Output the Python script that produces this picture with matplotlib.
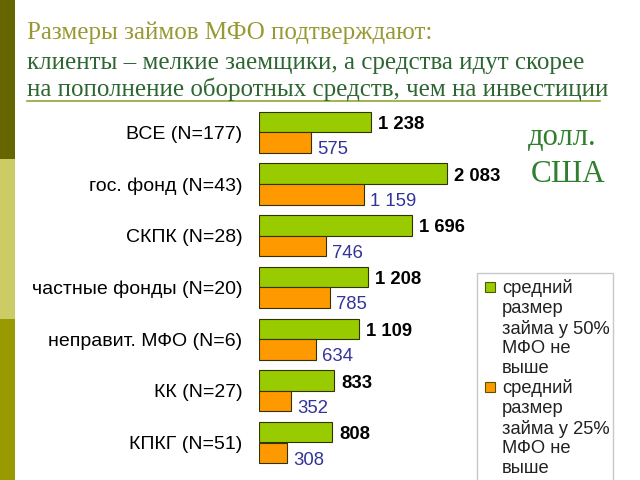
import matplotlib
matplotlib.use("Agg")
import matplotlib.pyplot as plt
import matplotlib.patches as patches
import numpy as np

# --- data ---
categories = ["ВСЕ (N=177)", "гос. фонд (N=43)", "СКПК (N=28)",
              "частные фонды (N=20)", "неправит. МФО (N=6)",
              "КК (N=27)", "КПКГ (N=51)"]
loan_50 = [1238, 2083, 1696, 1208, 1109, 833, 808]
loan_25 = [575, 1159, 746, 785, 634, 352, 308]
legend_labels = ["средний\nразмер\nзайма у 50%\nМФО не\nвыше",
                 "средний\nразмер\nзайма у 25%\nМФО не\nвыше"]
title_lines = ["Размеры займов МФО подтверждают:",
               "клиенты – мелкие заемщики, а средства идут скорее",
               "на пополнение оборотных средств, чем на инвестиции"]
unit_text = ["долл.", "США"]

GREEN = "#99cc00"
ORANGE = "#ff9900"
W, H = 640, 480


def fx(px):
    return px / W


def fy(py):
    return 1 - py / H


def fmt(v):
    return f"{v:,}".replace(",", " ")


fig = plt.figure(figsize=(6.4, 4.8), dpi=100)
fig.patch.set_facecolor("white")

# left decorative strip
for y0, y1, c in [(0, 159, "#666600"), (159, 319, "#cccc66"), (319, 480, "#999900")]:
    fig.add_artist(patches.Rectangle((0, fy(y1)), fx(15), (y1 - y0) / H,
                                     transform=fig.transFigure, color=c, lw=0))

# title
serif = "Liberation Serif"
tsize = 18
fig.text(fx(27), fy(39.5), title_lines[0], fontsize=tsize, family=serif,
         color="#999933", va="baseline")
fig.text(fx(27), fy(69), title_lines[1], fontsize=tsize, family=serif,
         color="#2e6633", va="baseline")
fig.text(fx(27), fy(96), title_lines[2], fontsize=tsize, family=serif,
         color="#2e6633", va="baseline")
fig.add_artist(plt.Line2D([fx(27), fx(600)], [fy(100.5), fy(100.5)],
                          transform=fig.transFigure, color="#8fa832", lw=1.2))

# unit note
fig.text(fx(562), fy(145), unit_text[0], fontsize=22, family=serif,
         color="#2f7f2f", ha="center", va="baseline")
fig.text(fx(568), fy(182), unit_text[1], fontsize=22.5, family=serif,
         color="#2f7f2f", ha="center", va="baseline")

# bar chart
ax = fig.add_axes([fx(259), 0, (477 - 259) / W, 380 / H])
pos = np.arange(len(categories))
h = 0.397
ax.barh(pos - 0.2, loan_50, height=h, color=GREEN, edgecolor="#333300", lw=0.8)
ax.barh(pos + 0.2, loan_25, height=h, color=ORANGE, edgecolor="#333300", lw=0.8)
ax.set_xlim(0, 218 / 0.0903)
ax.set_ylim(6.725, -0.625)
ax.set_yticks(pos, categories, fontsize=14, family="Liberation Sans", color="black")
ax.tick_params(axis="y", length=0, pad=12)
ax.set_xticks([])
for s in ax.spines.values():
    s.set_visible(False)
ax.patch.set_alpha(0)

for p, v in zip(pos, loan_50):
    ax.annotate(fmt(v), (v, p - 0.2 + 0.05), xytext=(7, 0), textcoords="offset pixels",
                ha="left", va="center", fontsize=13.3, fontweight="bold",
                family="Liberation Sans", color="black")
for p, v in zip(pos, loan_25):
    ax.annotate(fmt(v), (v, p + 0.2 + 0.14), xytext=(6, 0), textcoords="offset pixels",
                ha="left", va="center", fontsize=13.3,
                family="Liberation Sans", color="#333399")

# legend (drawn by hand: marker sits at the first line of each label)
fig.add_artist(patches.Rectangle((fx(477), fy(500)), fx(613 - 477), (500 - 273) / H,
                                 transform=fig.transFigure, facecolor="white",
                                 edgecolor="#c8c8c8", lw=1))
for top, col, lab in [(279, GREEN, legend_labels[0]), (379, ORANGE, legend_labels[1])]:
    fig.add_artist(patches.Rectangle((fx(485), fy(top + 13)), fx(10), 10 / H,
                                     transform=fig.transFigure, facecolor=col,
                                     edgecolor="#555500", lw=0.8))
    fig.text(fx(502), fy(top), lab, fontsize=13.2, family="Liberation Sans",
             color="#222222", va="top", ha="left", linespacing=1.21)

fig.savefig("out.png", dpi=100)
